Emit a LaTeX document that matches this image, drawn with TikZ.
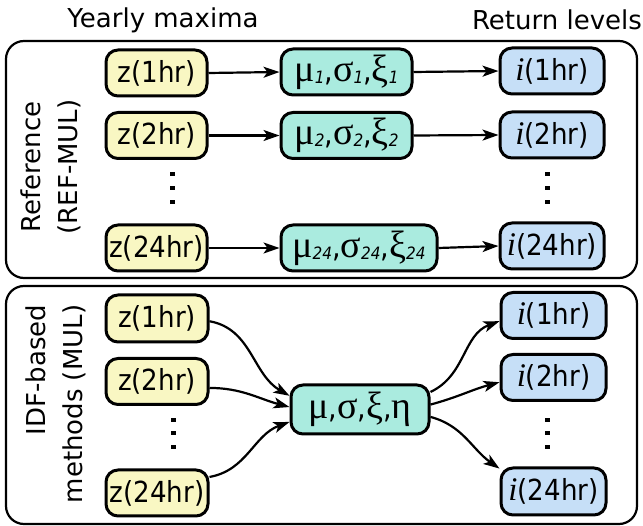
\documentclass[tikz,border=0pt]{standalone}
\usepackage{fontspec}
\setmainfont{DejaVu Sans}
\newfontfamily\boxfont{DejaVu Sans}[FakeStretch=0.9]
\newfontfamily\grk{Liberation Serif}
\usetikzlibrary{arrows.meta}

\definecolor{zyellow}{RGB}{249,247,195}
\definecolor{pgreen}{RGB}{170,235,223}
\definecolor{iblue}{RGB}{198,223,247}

% Greek parameter letters, their subscripts, separators and the return level symbol
\newcommand{\gk}[1]{{\grk\fontsize{38}{38}\selectfont #1}}
\newcommand{\sbx}[1]{\raisebox{-2pt}{\fontsize{17}{17}\selectfont\itshape #1}}
\newcommand{\cm}{{\fontsize{30}{30}\selectfont ,}}
\newcommand{\rl}{{\grk\itshape\fontsize{33}{33}\selectfont i}}

\begin{document}
\begin{tikzpicture}[x=1pt,y=1pt,
  font=\fontsize{26}{37}\selectfont,
  box/.style={draw, line width=3pt, rounded corners=12pt, inner sep=0pt, minimum height=46pt,
              font=\boxfont\fontsize{29}{30}\selectfont},
  zbox/.style={box, fill=zyellow, minimum width=101pt},
  pbox/.style={box, fill=pgreen},
  ibox/.style={box, fill=iblue, minimum width=104pt},
  panel/.style={draw, line width=2.2pt, rounded corners=18pt, inner sep=0pt},
  flow/.style={line width=2.2pt, -{Stealth[length=16pt,width=11pt,inset=4pt]}},
  vdot/.style={fill, minimum width=5pt, minimum height=4.5pt, inner sep=0pt}
]
\useasboundingbox (0,0) rectangle (643,-526);

% column headers
\node (ym) at (163,-20) {Yearly maxima};
\node (rlv) at (557,-20) {Return levels};

% the two panels
\node[panel, minimum width=631pt, minimum height=237pt] (toppanel) at (321.5,-159.5) {};
\node[panel, minimum width=631pt, minimum height=238pt] (botpanel) at (321.5,-405) {};

% panel titles
\node[rotate=90, align=center] (reflab) at (51,-167) {Reference\\(REF-MUL)};
\node[rotate=90, align=right] (mullab) at (55.5,-404) {IDF-based\\methods (MUL)};

% ---- top panel: one fit per duration
\node[zbox] (z1) at (156.5,-73) {z(1hr)};
\node[zbox] (z2) at (156.5,-135.5) {z(2hr)};
\node[zbox] (z24) at (156.5,-248) {z(24hr)};

\node[pbox, minimum width=131pt] (p1) at (346.5,-72) {\gk{μ}\sbx{1}\cm\gk{σ}\sbx{1}\cm\gk{ξ}\sbx{1}};
\node[pbox, minimum width=131pt] (p2) at (346.5,-135.5) {\gk{μ}\sbx{2}\cm\gk{σ}\sbx{2}\cm\gk{ξ}\sbx{2}};
\node[pbox, minimum width=156pt] (p24) at (359,-248) {\gk{μ}\sbx{24}\cm\gk{σ}\sbx{24}\cm\gk{ξ}\sbx{24}};

\node[ibox] (i1) at (552,-71) {\rl(1hr)};
\node[ibox] (i2) at (552,-135) {\rl(2hr)};
\node[ibox] (i24) at (552,-246) {\rl(24hr)};

\foreach \a/\b in {z1/p1, p1/i1, z2/p2, p2/i2, z24/p24, p24/i24}
  \draw[flow] (\a.east) -- (\b.west);

\foreach \k/\y in {1/174, 2/188, 3/202} {
  \node[vdot] (dtl\k) at (172,-\y) {};
  \node[vdot] (dtr\k) at (547,-\y) {};
}

% ---- bottom panel: one joint fit for all durations
\node[zbox, minimum width=102pt, minimum height=47pt] (zb1) at (157,-318.5) {z(1hr)};
\node[zbox, minimum width=102pt] (zb2) at (157,-381.5) {z(2hr)};
\node[zbox, minimum width=102pt] (zb24) at (157,-493) {z(24hr)};

\node[pbox, minimum width=138pt, minimum height=49pt] (c) at (360,-409.5) {\gk{μ}\cm\gk{σ}\cm\gk{ξ}\cm\gk{η}};

\node[ibox, minimum width=105pt] (ib1) at (553.5,-315.5) {\rl(1hr)};
\node[ibox, minimum width=105pt] (ib2) at (553.5,-377.5) {\rl(2hr)};
\node[ibox, minimum width=105pt, minimum height=47pt] (ib24) at (553.5,-491.5) {\rl(24hr)};

\draw[flow] (zb1.-3) to[out=-10, in=150] (c.169);
\draw[flow] (zb2.-7) to[out=0, in=165] (c.178);
\draw[flow] (zb24.17) to[out=10, in=200] (c.190);

\draw[flow] (c.14) to[out=25, in=200] (ib1.186);
\draw[flow] (c.4) to[out=15, in=195] (ib2.185);
\draw[flow] (c.-6) to[out=-15, in=145] (ib24.157);

\foreach \k/\y in {1/420, 2/433, 3/447} {
  \node[vdot] (dbl\k) at (173,-\y) {};
  \node[vdot] (dbr\k) at (547,-\y) {};
}
\end{tikzpicture}
\end{document}
